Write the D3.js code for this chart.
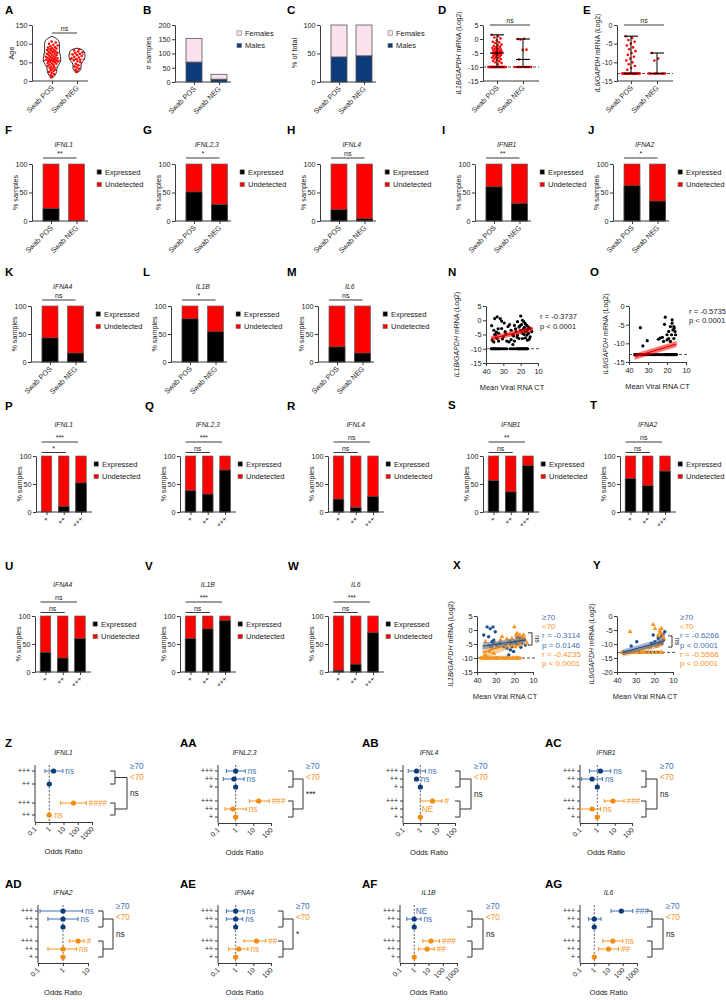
<!DOCTYPE html>
<html><head><meta charset="utf-8">
<script src="https://cdn.jsdelivr.net/npm/d3@7/dist/d3.min.js"></script>
<style>html,body{margin:0;padding:0;background:#fff}</style>
</head><body>
<svg id="fig" width="726" height="1000" xmlns="http://www.w3.org/2000/svg"></svg>
<script>
// ================= DATA =================
const swabCats = ["Swab POS", "Swab NEG"];
const levelCats = ["+", "++", "+++"];

// A: age
const ageTicks = [0, 50, 100, 150];
const agePos = [10,13,16,19,22,24,27,29,31,33,35,37,39,41,43,44,46,47,48,50,51,52,53,54,55,56,57,58,59,60,61,62,63,64,65,66,68,69,70,72,73,75,76,78,79,80,82,83,84,86,87,88,90,91,93,95,97,100,103,106];
const ageNeg = [24,27,30,33,36,39,42,46,50,53,55,57,59,61,63,65,67,69,71,73,75,77,79,82,85];
const violinPosAge = [7,15,25,35,45,55,65,75,85,95,105,113,120];
const violinPosDens = [0,0.35,0.55,0.5,0.8,1,0.95,0.85,0.8,0.85,0.8,0.6,0];
const violinNegAge = [22,28,35,42,48,55,62,70,78,84,88];
const violinNegDens = [0,0.45,0.5,0.5,0.55,0.85,1,1,0.95,0.75,0];
const ageQuartPos = [38, 55, 75];
const ageQuartNeg = [42, 58, 72];

// B, C: sex
const sexKeys = ["Females", "Males"];
const malesCount = [70, 10];
const femalesCount = [83, 17];
const countTicks = [0, 50, 100, 150, 200];
const malesPct = [44, 46];
const femalesPct = [56, 54];
const pctTicks = [0, 50, 100];

// D: IL1B by swab
const il1bTicks = [5, 0, -5, -10, -15];
const il1bPos = [1.5,1.0,0.5,0.2,-0.5,-1,-1.2,-1.5,-2,-2.2,-2.5,-2.8,-3,-3.2,-3.4,-3.6,-3.8,-4,-4.1,-4.3,-4.5,-4.6,-4.8,-5,-5,-5.1,-5.2,-5.3,-5.5,-5.6,-5.8,-6,-6.2,-6.4,-6.6,-6.8,-7,-7.2,-7.5,-7.8,-8,-8.3,-8.6,-9,
  -10,-10,-10,-10,-10,-10,-10,-10,-10,-10,-10,-10,-10,-10,-10,-10,-10,-10,-10,-10,-10,-10,-10,-10,-10,-10,-10,-10];
const il1bNeg = [0,0.1,-0.2,-3.8,-3.9,-7.3,-10,-10,-10,-10,-10,-10,-10,-10,-10,-10];
const il1bRangePos = [-10, -5, 1.5];
const il1bRangeNeg = [-10, -7.3, 0];
const il1bLod = -10;

// E: IL6 by swab
const il6Ticks = [0, -5, -10, -15];
const il6Pos = [-3,-3.5,-4,-4.5,-5,-5.5,-6,-6.5,-7,-7.5,-8,-8.5,-9,-9.5,-10,-10.5,-11,-11.5,-12,
  -13,-13,-13,-13,-13,-13,-13,-13,-13,-13,-13,-13,-13,-13,-13,-13,-13,-13,-13,-13,-13,-13,-13,-13,-13,-13];
const il6Neg = [-7.5,-9,-9.5,-13,-13,-13,-13,-13,-13,-13,-13,-13,-13,-13];
const il6RangePos = [-13, -13, -3];
const il6RangeNeg = [-13, -13, -7.5];
const il6Lod = -13;

// F-M: % expressed by swab
const genes = ["IFNL1","IFNL2,3","IFNL4","IFNB1","IFNA2","IFNA4","IL1B","IL6"];
const exprSwabPos = [22, 51, 20, 60, 62, 43, 77, 27];
const exprSwabNeg = [0, 29, 4, 31, 35, 16, 54, 16];
const sigSwab = ["**","*","ns","**","*","ns","*","ns"];
const legendKeys = ["Expressed","Undetected"];

// P-W: % expressed by viral load level (+, ++, +++)
const exprLevel = [[0,10,52],[38,32,75],[23,8,28],[56,36,83],[60,47,73],[35,25,60],[60,77,92],[3,14,70]];
const sigLevelAll = ["***","***","ns","**","ns","ns","***","***"];
const sigLevel12 = ["*","ns","ns","ns","ns","ns","ns","ns"];

// N: IL1B vs CT
const nDetCt  = [36.7,35,33.6,31.8,31,35.5,34.5,33.6,32.7,31,30,29,27.3,26.4,25.5,24.5,23.6,24.5,28,26.7,36.4,35.5,32.7,35,34,33,30.5,29.5,28.5,20,21.8,19,18.2,17.3,16.4,15.5,14.5,13.6,21,20,19,18.2,17.3,16.4,15.5,14.5,21.8,22.7,21,19,17.3,16.4,23.6,20.5,19.5,18.5,17.8,16.8,15.8,22,23,24,25.5,18,16,15];
const nDetVal = [-1.9,0.6,1.2,0.6,-0.3,-3.5,-5.2,-6.4,-4.6,-2.9,-5.8,-4,-2.2,-1.5,-3.5,-5.2,-7.3,-8.5,-7.3,-7.6,-7,-7.6,-7.3,-5,-4.2,-3,-6.5,-1,-4.8,1.5,-0.5,0,-0.5,-1.2,-1.8,-2.4,-2.9,-4,-2.4,-3.5,-4.6,-2.9,-4,-5.2,-4.6,-5.8,-5.2,-4,-6.4,-6.4,-6.2,-3.5,-1.8,-2,-1.5,-3.2,-2.5,-3.8,-3,-6,-3,-5.5,-6.8,-5,-7,-6.6];
const nUndCt  = [37,36.5,36,35.5,35,34.5,34,33,32.5,32,31,30,29,28,26,25,24,23,22,21.5,21,20.5,20,19.5,19,18.5,18,17.5,17,16.5,16];
const nFitCt = [37, 13], nFitMid = [-6.4, -3.0], nFitLo = [-7.3, -3.9], nFitHi = [-5.5, -2.1];

// O: IL6 vs CT
const oDetCt  = [34,32.7,30.4,24.5,20.9,21.3,22.4,20,19.1,18.2,17.3,16.4,16.9,15.8,17.6,19.1,16.4,15.5,18.2,20,21.8,23.6,17.3,16.2];
const oDetVal = [-5.8,-10.7,-9.3,-8.9,-3,-4.9,-8.4,-7.7,-6.8,-5.5,-4.6,-5.5,-6.4,-6.8,-7.7,-8.7,-8.7,-7.7,-9.5,-9.1,-9.5,-8.6,-3.7,-5.9];
const oUndCt  = [37,36.5,36,35.5,35,34,33,32,31,30,29,28,27,26,25,24,23,22,21,20.5,20,19.5,19,18.5,18,17.5,17,16.5,16,15.5,15];
const oFitCt = [37, 15], oFitMid = [-13.6, -10.2], oFitLo = [-14.4, -11.0], oFitHi = [-12.8, -9.4];

// X: IL1B vs CT by age group
const xOldCt  = [36.4,34.6,32.9,31.4,30.2,33.8,32,31,29.3,27.5,25.7,23.9,22.1,21.3,19.5,18.6,17.7,16,15,14.1,20.4,23,31,32.5,19,17,16.5,22.5];
const xOldVal = [-1.8,1.1,0.5,1.1,-0.6,-2.4,-4.2,-3.6,-5.4,-4.8,-6,-6.5,-7.1,-6,-4.2,-2.4,-3.6,-4.8,-3.6,-5.4,-7.7,-8.9,-4.8,-6,-5,-2.8,-6.2,-4];
const xOldUnd = [34.6, 29.3, 24, 18.6];
const xYoungCt  = [35.5,33.8,32,30.2,27.5,26.6,25,23,21.3,20,18.6,17.1,16,15,16.8,14.1,13.2,19.5,17.7,21.3,33.2,31,35.5,28.5,24,22,19,18,16.5,15.5];
const xYoungVal = [-4.2,-5.4,-6.5,-4.8,-3.6,-2.4,-5.4,-4.2,-3,1.1,-1.2,-1.8,-3,-1.8,-4.2,-3.6,-4.8,-6,-5.4,-4.8,-7.7,-8.3,-8.9,-6,-3.2,-5.5,-2,-3.5,-5,-2.5];
const xYoungUnd = [38,37,36.5,36,35,34,33,32,31,30,29,28,27,26,25,24,23,22,21,20,19,18,17];
const xFitCt = [37, 14];
const xOldMid = [-5.8, -3.6], xOldLo = [-7.0, -4.6], xOldHi = [-4.6, -2.6];
const xYoungMid = [-8.0, -3.2], xYoungLo = [-10.5, -4.2], xYoungHi = [-5.5, -2.2];
const xStats = ["≥70", "<70", "r = -0.3114", "p = 0.0146", "r = -0.4235", "p < 0.0001"];

// Y: IL6 vs CT by age group
const yOldCt  = [32.4,29.4,20.6,17.9,17.1,16.2,15.3,15,16.2,19.7,21.5,14.4];
const yOldVal = [-10.7,-9.2,-6.8,-8,-9.2,-7.4,-6.6,-8.6,-9.8,-9.2,-9.8,-5.6];
const yOldUnd = [37,35,33,30,28,26,24,22,20,18,16];
const yYoungCt  = [33,20.6,19.7,17.1,16.2,15.3,17.9,18.8,22.4,16.2,15,18,17,16.8];
const yYoungVal = [-5.6,-3.1,-4.5,-5.1,-6.2,-7.4,-10.4,-10.9,-11.3,-4.5,-8,-7,-6,-9];
const yYoungUnd = [37.5,36.5,35.5,34.5,33.5,32,31,30,29,27,26,25,23,21,19,17,16];
const yFitCt = [37, 15];
const yOldMid = [-13, -9], yOldLo = [-14, -10.2], yOldHi = [-12, -7.8];
const yYoungMid = [-13.8, -9.6], yYoungLo = [-14.6, -10.8], yYoungHi = [-13, -8.4];
const yStats = ["≥70", "<70", "r = -0.6266", "p < 0.0001", "r = -0.5566", "p < 0.0001"];

// Z-AG: odds ratios (old = ≥70, young = <70)
const orTicks3 = [0.1, 1, 10, 100], orTicks4 = [0.1, 1, 10, 100, 1000], orTicks2 = [0.1, 1, 10];
const forIFNL1Old   = [{l:"+++",or:2,lo:0.5,hi:9,lab:"ns"},{l:"++",or:1}];
const forIFNL1Young = [{l:"+++",or:50,lo:6,hi:400,lab:"####"},{l:"++",or:1,lab:"ns"}];
const forIFNL23Old   = [{l:"+++",or:1,lo:0.3,hi:3.5,lab:"ns"},{l:"++",or:0.8,lo:0.2,hi:3,lab:"ns"},{l:"+",or:1}];
const forIFNL23Young = [{l:"+++",or:20,lo:6,hi:80,lab:"###"},{l:"++",or:0.7,lo:0.25,hi:4,lab:"ns"},{l:"+",or:1}];
const forIFNL4Old   = [{l:"+++",or:0.6,lo:0.2,hi:2,lab:"ns"},{l:"++",or:0.6,lo:0.5,hi:0.75,lab:"ns"},{l:"+",or:1}];
const forIFNL4Young = [{l:"+++",or:5,lo:1,hi:18,lab:"#"},{l:"++",or:null,lab:"NE"},{l:"+",or:1}];
const forIFNB1Old   = [{l:"+++",or:1.5,lo:0.35,hi:6,lab:"ns"},{l:"++",or:0.5,lo:0.12,hi:2,lab:"ns"},{l:"+",or:1}];
const forIFNB1Young = [{l:"+++",or:8,lo:2.5,hi:35,lab:"###"},{l:"++",or:0.5,lo:0.1,hi:1.5,lab:"ns"},{l:"+",or:1}];
const forIFNA2Old   = [{l:"+++",or:1,lo:0.12,hi:6,lab:"ns"},{l:"++",or:1,lo:0.25,hi:4,lab:"ns"},{l:"+",or:1}];
const forIFNA2Young = [{l:"+++",or:4,lo:1.8,hi:7,lab:"#"},{l:"++",or:1,lo:0.25,hi:3.5,lab:"ns"},{l:"+",or:1}];
const forIFNA4Old   = [{l:"+++",or:1,lo:0.3,hi:3,lab:"ns"},{l:"++",or:1,lo:0.3,hi:2.5,lab:"ns"},{l:"+",or:1}];
const forIFNA4Young = [{l:"+++",or:15,lo:3,hi:50,lab:"##"},{l:"++",or:1.5,lo:0.4,hi:5,lab:"ns"},{l:"+",or:1}];
const forIL1BOld   = [{l:"+++",or:null,lab:"NE"},{l:"++",or:1,lo:0.3,hi:3,lab:"ns"},{l:"+",or:1}];
const forIL1BYoung = [{l:"+++",or:15,lo:4,hi:60,lab:"###"},{l:"++",or:8,lo:2,hi:25,lab:"##"},{l:"+",or:1}];
const forIL6Old   = [{l:"+++",or:80,lo:15,hi:500,lab:"###"},{l:"++",or:1,lo:0.4,hi:3},{l:"+",or:1}];
const forIL6Young = [{l:"+++",or:20,lo:4,hi:100,lab:"ns"},{l:"++",or:10,lo:2,hi:50,lab:"##"},{l:"+",or:1}];
const forestSig = ["ns","***","ns","ns","ns","*","ns","ns"];

// ================= DRAWING =================
const svg = d3.select("#fig");
const FONT = "'Liberation Sans', Arial, Helvetica, sans-serif";
svg.attr("font-family", FONT);
const RED = "#ff0000", NAVY = "#0c3b7b", PINK = "#fbe1ee", AXC = "#3a3a3a", TXT = "#1a1a1a";
const BLUE = "#1c4d8f", BLUE_L = "#3f6fb3", ORANGE = "#f7931e";
const FS = 7.2;
const jit = i => ((i * 0.6180339) % 1) - 0.5;

function T(g, x, y, s, o = {}) {
  const t = g.append("text").attr("x", x).attr("y", y).text(s)
    .attr("font-size", o.fs || FS).attr("fill", o.fill || TXT)
    .attr("text-anchor", o.anchor || "start").attr("dy", o.dy == null ? "0.35em" : o.dy);
  if (o.italic) t.attr("font-style", "italic");
  if (o.bold) t.attr("font-weight", "bold");
  if (o.rot != null) t.attr("transform", `rotate(${o.rot},${x},${y})`);
  return t;
}
function styleAxis(a) {
  a.attr("font-family", FONT);
  a.select(".domain").attr("stroke", AXC).attr("stroke-width", 1);
  a.selectAll(".tick line").attr("stroke", AXC).attr("stroke-width", 1);
  a.selectAll("text").attr("font-size", FS).attr("fill", TXT);
  return a;
}
function yAxis(g, ax, y, ticks) {
  return styleAxis(g.append("g").attr("transform", `translate(${ax},0)`)
    .call(d3.axisLeft(y).tickValues(ticks).tickSize(3).tickPadding(1.5).tickSizeOuter(0).tickFormat(d => d)));
}
function catAxis(g, x, y0, x0, x1, fs) {
  g.append("line").attr("x1", x0).attr("x2", x1).attr("y1", y0).attr("y2", y0).attr("stroke", AXC).attr("stroke-width", 1);
  const a = styleAxis(g.append("g").attr("transform", `translate(0,${y0})`).call(d3.axisBottom(x).tickSize(3).tickSizeOuter(0)));
  a.select(".domain").remove();
  a.selectAll("text").attr("x", -4).attr("y", 4).attr("dy", "0.35em").attr("text-anchor", "end")
    .attr("transform", "rotate(-45)").attr("font-size", fs || FS);
}
function valAxisX(g, x, y0, ticks) {
  const a = styleAxis(g.append("g").attr("transform", `translate(0,${y0})`)
    .call(d3.axisBottom(x).tickValues(ticks).tickSize(3).tickSizeOuter(0).tickFormat(d => d)));
  a.selectAll("text").attr("font-size", 7.4);
  return a;
}
function yLabel(g, x, y, s, fs) {
  return g.append("text").attr("transform", `translate(${x},${y}) rotate(-90)`).attr("text-anchor", "middle")
    .attr("font-size", fs || FS).attr("fill", TXT).attr("dy", "0.35em").text(s);
}
function geneYLabel(g, x, y, gene, fs) {
  const t = g.append("text").attr("transform", `translate(${x},${y}) rotate(-90)`).attr("text-anchor", "middle")
    .attr("font-size", fs || FS).attr("fill", TXT).attr("dy", "0.35em");
  t.append("tspan").attr("font-style", "italic").text(gene + "/GAPDH");
  t.append("tspan").text(" mRNA (Log2)");
}
function sigLine(g, x1, x2, y, s) {
  g.append("line").attr("x1", x1).attr("x2", x2).attr("y1", y).attr("y2", y).attr("stroke", AXC).attr("stroke-width", 1);
  T(g, (x1 + x2) / 2, y - 4, s, {anchor: "middle", fs: 7});
}
function legend(g, x, y, keys, fills) {
  keys.forEach((k, i) => {
    g.append("rect").attr("x", x).attr("y", y + i * 12.5 - 2.2).attr("width", 4.4).attr("height", 4.4)
      .attr("fill", fills[i]).attr("stroke", "#777").attr("stroke-width", 0.6);
    T(g, x + 8, y + i * 12.5, k, {fs: 7.5});
  });
}

// ---- panel letters ----
const panelLetters = ["A","B","C","D","E","F","G","H","I","J","K","L","M","N","O","P","Q","R","S","T","U","V","W","X","Y","Z","AA","AB","AC","AD","AE","AF","AG"];
const letterX = [5,143,287,438,583, 5,143,287,442,588, 5,143,287,448,590, 5,145,287,448,590, 5,145,288,453,593, 5,180,362,545, 5,180,362,545];
const letterY = [10,10,10,10,10, 130,130,130,130,130, 272,272,272,272,272, 406,406,406,405,405, 566,566,566,565,565, 743,743,743,743, 884,884,884,884];
panelLetters.forEach((L, i) => T(svg, letterX[i], letterY[i], L, {fs: 11.5, bold: true, fill: "#000"}));

// ---- A: violin ----
(function () {
  const g = svg.append("g"), ax = 32;
  const x = d3.scalePoint().domain(swabCats).range([ax + 20, ax + 45]);
  const y = d3.scaleLinear().domain([0, 150]).range([81, 25]);
  const sets = [
    {cat: swabCats[0], ages: agePos, va: violinPosAge, vd: violinPosDens, hw: 9, q: ageQuartPos},
    {cat: swabCats[1], ages: ageNeg, va: violinNegAge, vd: violinNegDens, hw: 8, q: ageQuartNeg}];
  sets.forEach(s => {
    const cx = x(s.cat);
    const dens = d3.scaleLinear().domain(s.va).range(s.vd).clamp(true);
    const pts = s.va.map((a, i) => ({a, d: s.vd[i]}));
    g.append("path").datum(pts).attr("d", d3.area().curve(d3.curveBasis)
      .y(d => y(d.a)).x0(d => cx - s.hw * d.d).x1(d => cx + s.hw * d.d))
      .attr("fill", "#fff").attr("stroke", "#111").attr("stroke-width", 0.9);
    g.selectAll(null).data(s.ages).join("circle")
      .attr("cx", (a, i) => cx + jit(i) * 1.5 * s.hw * dens(a)).attr("cy", a => y(a)).attr("r", 1.25)
      .attr("fill", RED);
    s.q.forEach((qv, k) => g.append("line").attr("x1", cx - s.hw * dens(qv)).attr("x2", cx + s.hw * dens(qv))
      .attr("y1", y(qv)).attr("y2", y(qv)).attr("stroke", RED).attr("stroke-width", k === 1 ? 1.1 : 0.8).attr("stroke-dasharray", "2,1.2"));
  });
  yAxis(g, ax, y, ageTicks);
  catAxis(g, x, 81, ax, ax + 56);
  yLabel(g, 11, 53, "Age", 7.4);
  sigLine(g, x(swabCats[0]), x(swabCats[1]), 33, "ns");
})();

// ---- B, C: by sex ----
function sexPanel(ax, yMax, ticks, males, females, ylab, ylx, lgx) {
  const g = svg.append("g");
  const x = d3.scalePoint().domain(swabCats).range([ax + 19, ax + 44]);
  const y = d3.scaleLinear().domain([0, yMax]).range([82, 25]);
  const rows = swabCats.map((c, i) => ({cat: c, Males: males[i], Females: females[i]}));
  const stack = d3.stack().keys(["Males", "Females"])(rows);
  g.selectAll("g.s").data(stack).join("g").attr("fill", d => d.key === "Males" ? NAVY : PINK)
    .selectAll("rect").data(d => d).join("rect")
    .attr("x", d => x(d.data.cat) - 8).attr("width", 16)
    .attr("y", d => y(d[1])).attr("height", d => y(d[0]) - y(d[1]))
    .attr("stroke", "#555").attr("stroke-width", 0.8);
  yAxis(g, ax, y, ticks);
  catAxis(g, x, 82, ax, ax + 56);
  yLabel(g, ylx, 53, ylab, 7.2);
  legend(g, lgx, 33, sexKeys, [PINK, NAVY]);
}
sexPanel(175, 200, countTicks, malesCount, femalesCount, "# samples", 148, 237);
sexPanel(320, 100, pctTicks, malesPct, femalesPct, "% of total", 294, 388);

// ---- D, E: scatter by swab ----
function swabScatter(ax, dom, ticks, posV, negV, rPos, rNeg, lod, gene, ylx) {
  const g = svg.append("g");
  const x = d3.scalePoint().domain(swabCats).range([ax + 14, ax + 40]);
  const y = d3.scaleLinear().domain(dom).range([81, 25]);
  g.append("line").attr("x1", ax).attr("x2", ax + 56).attr("y1", y(lod)).attr("y2", y(lod))
    .attr("stroke", "#222").attr("stroke-width", 0.8).attr("stroke-dasharray", "3,2");
  [[posV, swabCats[0], 18], [negV, swabCats[1], 18]].forEach(([vals, c, w]) => {
    g.selectAll(null).data(vals).join("circle")
      .attr("cx", (v, i) => x(c) + jit(i) * (v === lod ? w : 10)).attr("cy", v => y(v)).attr("r", 1.3).attr("fill", RED);
  });
  [[rPos, swabCats[0]], [rNeg, swabCats[1]]].forEach(([r, c]) => {
    const cx = x(c);
    g.append("line").attr("x1", cx).attr("x2", cx).attr("y1", y(r[0])).attr("y2", y(r[2])).attr("stroke", "#000").attr("stroke-width", 1);
    r.forEach(v => g.append("line").attr("x1", cx - 7).attr("x2", cx + 7).attr("y1", y(v)).attr("y2", y(v)).attr("stroke", "#000").attr("stroke-width", 1.1));
  });
  yAxis(g, ax, y, ticks);
  catAxis(g, x, 81, ax, ax + 56);
  geneYLabel(g, ylx, 53, gene, 6.8);
  sigLine(g, x(swabCats[0]) - 7, x(swabCats[1]) + 7, 25, "ns");
}
swabScatter(483, [-15, 5], il1bTicks, il1bPos, il1bNeg, il1bRangePos, il1bRangeNeg, il1bLod, "IL1B", 459);
swabScatter(617, [-15, 0], il6Ticks, il6Pos, il6Neg, il6RangePos, il6RangeNeg, il6Lod, "IL6", 598);

// ---- stacked expression panels ----
function stackPanel(o) {
  const g = svg.append("g");
  const n = o.cats.length;
  const x = d3.scalePoint().domain(o.cats).range(n === 2 ? [o.ax + 19, o.ax + 44.5] : [o.ax + 10.5, o.ax + 45]);
  const bw = n === 2 ? 16 : 10.5;
  const y = d3.scaleLinear().domain([0, 100]).range([o.y0, o.y100]);
  const rows = o.cats.map((c, i) => ({cat: c, e: o.vals[i]}));
  g.selectAll("rect.u").data(rows).join("rect").attr("x", d => x(d.cat) - bw / 2).attr("width", bw)
    .attr("y", y(100)).attr("height", y(0) - y(100)).attr("fill", RED).attr("stroke", "#666").attr("stroke-width", 0.7);
  g.selectAll("rect.e").data(rows.filter(d => d.e > 0)).join("rect").attr("x", d => x(d.cat) - bw / 2).attr("width", bw)
    .attr("y", d => y(d.e)).attr("height", d => y(0) - y(d.e)).attr("fill", "#000").attr("stroke", "#555").attr("stroke-width", 0.7);
  yAxis(g, o.ax, y, pctTicks);
  catAxis(g, x, o.y0, o.ax, o.ax + 56, n === 2 ? FS : 6.6);
  yLabel(g, o.ax - 17, (o.y0 + o.y100) / 2, "% samples", 7.2);
  legend(g, o.ax + o.ldx, o.y100 + 8, legendKeys, ["#000", RED]);
  const c = o.cats;
  if (n === 2) {
    T(g, (x(c[0]) + x(c[1])) / 2, o.y100 - 19, o.title, {anchor: "middle", italic: true, fs: 6.8});
    sigLine(g, x(c[0]) - 8, x(c[1]), o.y100 - 6, o.sig);
  } else {
    T(g, x(c[1]), o.y100 - 31, o.title, {anchor: "middle", italic: true, fs: 6.8});
    sigLine(g, x(c[0]) - 5, x(c[2]) - 3, o.y100 - 14, o.sig);
    sigLine(g, x(c[0]) - 5, x(c[1]) + 2, o.y100 - 3.5, o.sig2);
  }
}
const rowFx = [32, 175, 320, 475, 613], rowKx = [31, 171, 318];
const rowPx = [36, 180, 328, 483, 620], rowUx = [35, 180, 328];
rowFx.forEach((ax, i) => stackPanel({ax, y100: 164, y0: 221, ldx: 65, cats: swabCats, vals: [exprSwabPos[i], exprSwabNeg[i]], title: genes[i], sig: sigSwab[i]}));
rowKx.forEach((ax, j) => { const i = j + 5; stackPanel({ax, y100: 306, y0: 362, ldx: 65, cats: swabCats, vals: [exprSwabPos[i], exprSwabNeg[i]], title: genes[i], sig: sigSwab[i]}); });
rowPx.forEach((ax, i) => stackPanel({ax, y100: 456, y0: 512, ldx: 58, cats: levelCats, vals: exprLevel[i], title: genes[i], sig: sigLevelAll[i], sig2: sigLevel12[i]}));
rowUx.forEach((ax, j) => { const i = j + 5; stackPanel({ax, y100: 616, y0: 672, ldx: 58, cats: levelCats, vals: exprLevel[i], title: genes[i], sig: sigLevelAll[i], sig2: sigLevel12[i]}); });

// ---- CT scatter panels ----
function ctScatter(o) {
  const g = svg.append("g");
  const x = d3.scaleLinear().domain([40, 10]).range(o.xr);
  const y = d3.scaleLinear().domain(o.ydom).range(o.yr);
  const y0 = o.yr[0];
  g.append("line").attr("x1", o.xr[0]).attr("x2", o.xr[1] + 2).attr("y1", y(o.lod)).attr("y2", y(o.lod))
    .attr("stroke", "#222").attr("stroke-width", 0.8).attr("stroke-dasharray", "3,2");
  o.series.forEach(s => {
    const pts = s.ct.map((c, i) => ({c, v: s.val[i]})).concat(s.und.map(c => ({c, v: o.lod})));
    if (s.shape === "tri") {
      g.selectAll(null).data(pts).join("path").attr("d", d3.symbol(d3.symbolTriangle, 10))
        .attr("transform", d => `translate(${x(d.c)},${y(d.v)})`).attr("fill", s.color);
    } else {
      g.selectAll(null).data(pts).join("circle").attr("cx", d => x(d.c)).attr("cy", d => y(d.v)).attr("r", s.r || 1.6).attr("fill", s.color);
    }
  });
  o.fits.forEach(f => {
    const band = f.ct.map((c, i) => ({c, lo: f.lo[i], hi: f.hi[i], m: f.mid[i]}));
    g.append("path").datum(band).attr("d", d3.area().x(d => x(d.c)).y0(d => y(d.lo)).y1(d => y(d.hi)))
      .attr("fill", f.color).attr("fill-opacity", f.op || 0.55);
    g.append("path").datum(band).attr("d", d3.line().x(d => x(d.c)).y(d => y(d.m)))
      .attr("stroke", f.line).attr("stroke-width", 1.1).attr("fill", "none");
  });
  yAxis(g, o.xr[0], y, o.yticks).selectAll("text").attr("font-size", 7.4);
  valAxisX(g, x, y0, [40, 30, 20, 10]);
  T(g, (o.xr[0] + o.xr[1]) / 2, y0 + 24, "Mean Viral RNA CT", {anchor: "middle", fs: 7.4});
  geneYLabel(g, o.ylx, (o.yr[0] + o.yr[1]) / 2, o.gene, 7);
  o.notes.forEach((s, i) => T(g, o.nx, o.ny + i * o.ndy, s, {fs: o.nfs || 7.6, fill: o.ncol ? o.ncol[i] : TXT}));
  if (o.br) {
    const [b0, b1] = o.br.map(v => y(v));
    const bx = o.xr[1] - 1;
    g.append("path").attr("d", `M${bx - 4},${b0}H${bx}V${b1}H${bx - 4}`).attr("fill", "none").attr("stroke", "#222").attr("stroke-width", 0.9);
    T(g, bx + 5, (b0 + b1) / 2, "ns", {anchor: "middle", fs: 7, rot: 90});
  }
}
ctScatter({xr: [486, 538], ydom: [-15, 5], yr: [363, 306], yticks: il1bTicks, lod: -10, gene: "IL1B", ylx: 457,
  series: [{ct: nDetCt, val: nDetVal, und: nUndCt, color: "#000"}],
  fits: [{ct: nFitCt, mid: nFitMid, lo: nFitLo, hi: nFitHi, color: RED, line: "#d40000"}],
  notes: ["r = -0.3737", "p < 0.0001"], nx: 540, ny: 316, ndy: 10});
ctScatter({xr: [629, 686], ydom: [-15, 0], yr: [362, 306], yticks: il6Ticks, lod: -13, gene: "IL6", ylx: 606,
  series: [{ct: oDetCt, val: oDetVal, und: oUndCt, color: "#000"}],
  fits: [{ct: oFitCt, mid: oFitMid, lo: oFitLo, hi: oFitHi, color: RED, line: "#d40000"}],
  notes: ["r = -0.5735", "p < 0.0001"], nx: 689, ny: 311, ndy: 9.5});
const statCols = [BLUE_L, ORANGE, BLUE_L, BLUE_L, ORANGE, ORANGE];
ctScatter({xr: [477, 533], ydom: [-15, 5], yr: [672, 616], yticks: il1bTicks, lod: -10, gene: "IL1B", ylx: 451,
  series: [{ct: xOldCt, val: xOldVal, und: xOldUnd, color: BLUE, r: 1.7}, {ct: xYoungCt, val: xYoungVal, und: xYoungUnd, color: ORANGE, shape: "tri"}],
  fits: [{ct: xFitCt, mid: xYoungMid, lo: xYoungLo, hi: xYoungHi, color: ORANGE, line: "#e07a00", op: 0.45},
         {ct: xFitCt, mid: xOldMid, lo: xOldLo, hi: xOldHi, color: BLUE_L, line: BLUE, op: 0.5}],
  notes: xStats, nx: 542, ny: 617, ndy: 9.3, nfs: 8, ncol: statCols, br: [-1, -5.4]});
ctScatter({xr: [617, 673], ydom: [-20, 0], yr: [672, 616], yticks: [0, -5, -10, -15, -20], lod: -13, gene: "IL6", ylx: 592,
  series: [{ct: yOldCt, val: yOldVal, und: yOldUnd, color: BLUE, r: 1.7}, {ct: yYoungCt, val: yYoungVal, und: yYoungUnd, color: ORANGE, shape: "tri"}],
  fits: [{ct: yFitCt, mid: yYoungMid, lo: yYoungLo, hi: yYoungHi, color: ORANGE, line: "#e07a00", op: 0.45},
         {ct: yFitCt, mid: yOldMid, lo: yOldLo, hi: yOldHi, color: BLUE_L, line: BLUE, op: 0.5}],
  notes: yStats, nx: 680, ny: 617, ndy: 9.3, nfs: 8, ncol: statCols, br: [-7.1, -11.1]});

// ---- forest plots ----
function forest(o) {
  const g = svg.append("g");
  const x = d3.scaleLog().domain(o.dom).range([o.ax, o.axEnd]);
  const rows = o.old.concat(o.young);
  const ys = o.rowOff.map(d => o.top + d);
  const axY = o.top + o.axOff;
  g.append("line").attr("x1", x(1)).attr("x2", x(1)).attr("y1", o.top - 6).attr("y2", axY)
    .attr("stroke", "#333").attr("stroke-width", 0.8).attr("stroke-dasharray", "2,1.6");
  g.append("line").attr("x1", o.ax).attr("x2", o.ax).attr("y1", o.top - 6).attr("y2", axY).attr("stroke", AXC).attr("stroke-width", 1);
  rows.forEach((r, i) => {
    g.append("line").attr("x1", o.ax - 3).attr("x2", o.ax).attr("y1", ys[i]).attr("y2", ys[i]).attr("stroke", AXC);
    T(g, o.ax - 5, ys[i], r.l, {anchor: "end", fs: 6.8});
  });
  const xa = valAxisX(g, x, axY, o.ticks);
  xa.selectAll("text").attr("x", -4).attr("y", 4).attr("dy", "0.35em").attr("text-anchor", "end").attr("transform", "rotate(-45)").attr("font-size", 7);
  rows.forEach((r, i) => {
    const old = i < o.old.length;
    const col = old ? BLUE_L : ORANGE, pcol = old ? NAVY : "#f58a0c";
    const yy = ys[i];
    if (r.lo != null) {
      g.append("line").attr("x1", x(r.lo)).attr("x2", x(r.hi)).attr("y1", yy).attr("y2", yy).attr("stroke", col).attr("stroke-width", 1);
      [r.lo, r.hi].forEach(v => g.append("line").attr("x1", x(v)).attr("x2", x(v)).attr("y1", yy - 2).attr("y2", yy + 2).attr("stroke", col).attr("stroke-width", 1));
    }
    if (r.or != null) g.append("circle").attr("cx", x(r.or)).attr("cy", yy).attr("r", 2.6).attr("fill", pcol);
    if (r.lab) {
      const lx = r.hi != null ? x(r.hi) + 2.5 : x(r.or != null ? r.or : 1) + (r.or != null ? 5 : 1.5);
      T(g, lx, yy, r.lab, {fs: 8.2, fill: old ? BLUE_L : ORANGE});
    }
  });
  T(g, (o.ax + o.axEnd) / 2, o.top - 18, o.title, {anchor: "middle", italic: true, fs: 6.8});
  T(g, (o.ax + o.axEnd) / 2, axY + 29, "Odds Ratio", {anchor: "middle", fs: 7.6});
  const no = o.old.length;
  const bOld = [ys[0], ys[no - 1]], bYoung = [ys[no], ys[rows.length - 1]];
  const mids = [];
  [bOld, bYoung].forEach(b => {
    g.append("path").attr("d", `M${o.bx - 5},${b[0]}H${o.bx}V${b[1]}H${o.bx - 5}`).attr("fill", "none").attr("stroke", "#333").attr("stroke-width", 1);
    mids.push((b[0] + b[1]) / 2);
  });
  g.append("path").attr("d", `M${o.bx},${mids[0]}H${o.bx2}V${mids[1]}H${o.bx}`).attr("fill", "none").attr("stroke", "#333").attr("stroke-width", 1);
  T(g, o.bx2 + 3, (mids[0] + mids[1]) / 2, o.sig, {fs: 8.2});
  T(g, o.bx2 + 3, o.top - 5, "≥70", {fs: 8.2, fill: BLUE_L});
  T(g, o.bx2 + 3, o.top + 6, "<70", {fs: 8.2, fill: ORANGE});
}
const off6 = [0, 8, 16, 30, 38, 46], off4 = [0, 13, 32, 44];
forest({title: genes[0], old: forIFNL1Old, young: forIFNL1Young, sig: forestSig[0], ax: 35, axEnd: 92, dom: [0.1, 1000], ticks: orTicks4, top: 771, rowOff: off4, axOff: 51, bx: 115, bx2: 127});
forest({title: genes[1], old: forIFNL23Old, young: forIFNL23Young, sig: forestSig[1], ax: 218, axEnd: 271, dom: [0.1, 100], ticks: orTicks3, top: 771, rowOff: off6, axOff: 52, bx: 293, bx2: 303});
forest({title: genes[2], old: forIFNL4Old, young: forIFNL4Young, sig: forestSig[2], ax: 403, axEnd: 455, dom: [0.1, 100], ticks: orTicks3, top: 771, rowOff: off6, axOff: 52, bx: 460, bx2: 471});
forest({title: genes[3], old: forIFNB1Old, young: forIFNB1Young, sig: forestSig[3], ax: 580, axEnd: 632, dom: [0.1, 100], ticks: orTicks3, top: 771, rowOff: off6, axOff: 52, bx: 646, bx2: 657});
forest({title: genes[4], old: forIFNA2Old, young: forIFNA2Young, sig: forestSig[4], ax: 38, axEnd: 88, dom: [0.1, 10], ticks: orTicks2, top: 911, rowOff: off6, axOff: 52, bx: 103, bx2: 113});
forest({title: genes[5], old: forIFNA4Old, young: forIFNA4Young, sig: forestSig[5], ax: 218, axEnd: 271, dom: [0.1, 100], ticks: orTicks3, top: 911, rowOff: off6, axOff: 52, bx: 283, bx2: 293});
forest({title: genes[6], old: forIL1BOld, young: forIL1BYoung, sig: forestSig[6], ax: 400, axEnd: 457, dom: [0.1, 1000], ticks: orTicks4, top: 911, rowOff: off6, axOff: 52, bx: 472, bx2: 483});
forest({title: genes[7], old: forIL6Old, young: forIL6Young, sig: forestSig[7], ax: 580, axEnd: 637, dom: [0.1, 1000], ticks: orTicks4, top: 911, rowOff: off6, axOff: 52, bx: 652, bx2: 663});
</script>
</body></html>
